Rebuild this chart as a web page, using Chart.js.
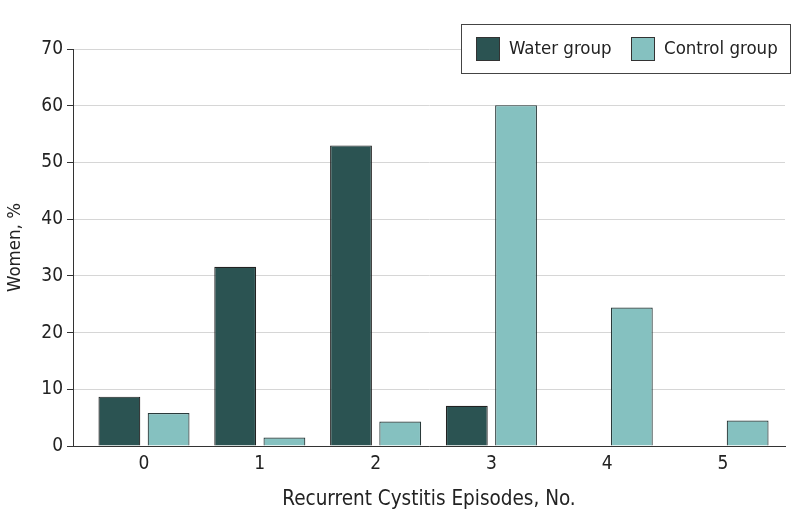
<!DOCTYPE html>
<html>
  <head>
    <title>Recurrent cystitis</title>
    <script src="https://cdn.jsdelivr.net/npm/chart.js"></script>
    <style>
      body {
        margin: 0;
        padding: 0;
        background: #ffffff;
      }
      #wrap {
        width: 794px;
        height: 525px;
      }
    </style>
  </head>
  <body>
    <div id="wrap"><canvas id="myChart"></canvas></div>
    <script>
      const episodes = [0, 1, 2, 3, 4, 5];
      const waterGroup = [8.7, 31.6, 53.0, 7.1, 0, 0];
      const controlGroup = [5.8, 1.5, 4.3, 60.1, 24.4, 4.5];
      const yTicks = [0, 10, 20, 30, 40, 50, 60, 70];
      const seriesNames = ["Water group", "Control group"];

      const FONT = "'DejaVu Sans Condensed', 'Liberation Sans Narrow', 'DejaVu Sans', sans-serif";
      const INK = "#222222";

      // legend sits inside the plot, top right, with a frame round it
      const boxLegend = {
        id: "boxLegend",
        afterDraw(chart) {
          const ctx = chart.ctx;
          ctx.save();
          ctx.fillStyle = "#ffffff";
          ctx.fillRect(461, 24, 330, 50);
          ctx.strokeStyle = "#444444";
          ctx.lineWidth = 1;
          ctx.strokeRect(461.5, 24.5, 329, 49);
          const xs = [476, 631];
          chart.data.datasets.forEach((ds, i) => {
            ctx.fillStyle = ds.backgroundColor;
            ctx.fillRect(xs[i], 37, 24, 24);
            ctx.strokeStyle = "#333333";
            ctx.strokeRect(xs[i] + 0.5, 37.5, 23, 23);
            ctx.fillStyle = INK;
            ctx.font = "18.5px " + FONT;
            ctx.textBaseline = "middle";
            ctx.fillText(ds.label, xs[i] + 33, 49);
          });
          ctx.restore();
        },
      };

      new Chart(document.getElementById("myChart"), {
        type: "bar",
        data: {
          datasets: [
            {
              label: seriesNames[0],
              data: episodes.map((e, i) => ({ x: e, y: waterGroup[i] })),
              backgroundColor: "#2b5352",
              borderColor: "#222222",
              borderWidth: 1.2,
            },
            {
              label: seriesNames[1],
              data: episodes.map((e, i) => ({ x: e, y: controlGroup[i] })),
              backgroundColor: "#85c1c0",
              borderColor: "#2a3a3a",
              borderWidth: 1.2,
            },
          ],
        },
        options: {
          responsive: true,
          maintainAspectRatio: false,
          animation: false,
          categoryPercentage: 0.85,
          barPercentage: 0.85,
          layout: { padding: { left: 0, right: 9, top: 49, bottom: 8 } },
          plugins: {
            legend: { display: false },
            tooltip: { enabled: false },
          },
          scales: {
            x: {
              type: "linear",
              offset: false,
              min: -0.613,
              max: 5.535,
              afterBuildTicks: (s) => {
                s.ticks = episodes.map((v) => ({ value: v }));
              },
              afterFit: (s) => {
                s.height = 71;
              },
              grid: { display: false, drawTicks: false },
              border: { color: "#333333", width: 1 },
              ticks: {
                font: { family: FONT, size: 19 },
                color: INK,
                padding: 7,
                autoSkip: false,
                maxRotation: 0,
              },
              title: {
                display: true,
                text: "Recurrent Cystitis Episodes, No.",
                font: { family: FONT, size: 20.5 },
                color: INK,
                padding: { top: 0, bottom: 5 },
              },
            },
            y: {
              min: 0,
              max: 70,
              afterBuildTicks: (s) => {
                s.ticks = yTicks.map((v) => ({ value: v }));
              },
              afterFit: (s) => {
                s.width = 73;
              },
              grid: {
                color: "#d6d6d6",
                tickColor: "#333333",
                tickLength: 6,
              },
              border: { color: "#333333", width: 1 },
              ticks: {
                font: { family: FONT, size: 19 },
                color: INK,
                padding: 4,
              },
              title: {
                display: true,
                text: "Women, %",
                font: { family: FONT, size: 18.5 },
                color: INK,
                padding: { top: 4, bottom: 0 },
              },
            },
          },
        },
        plugins: [boxLegend],
      });
    </script>
  </body>
</html>
